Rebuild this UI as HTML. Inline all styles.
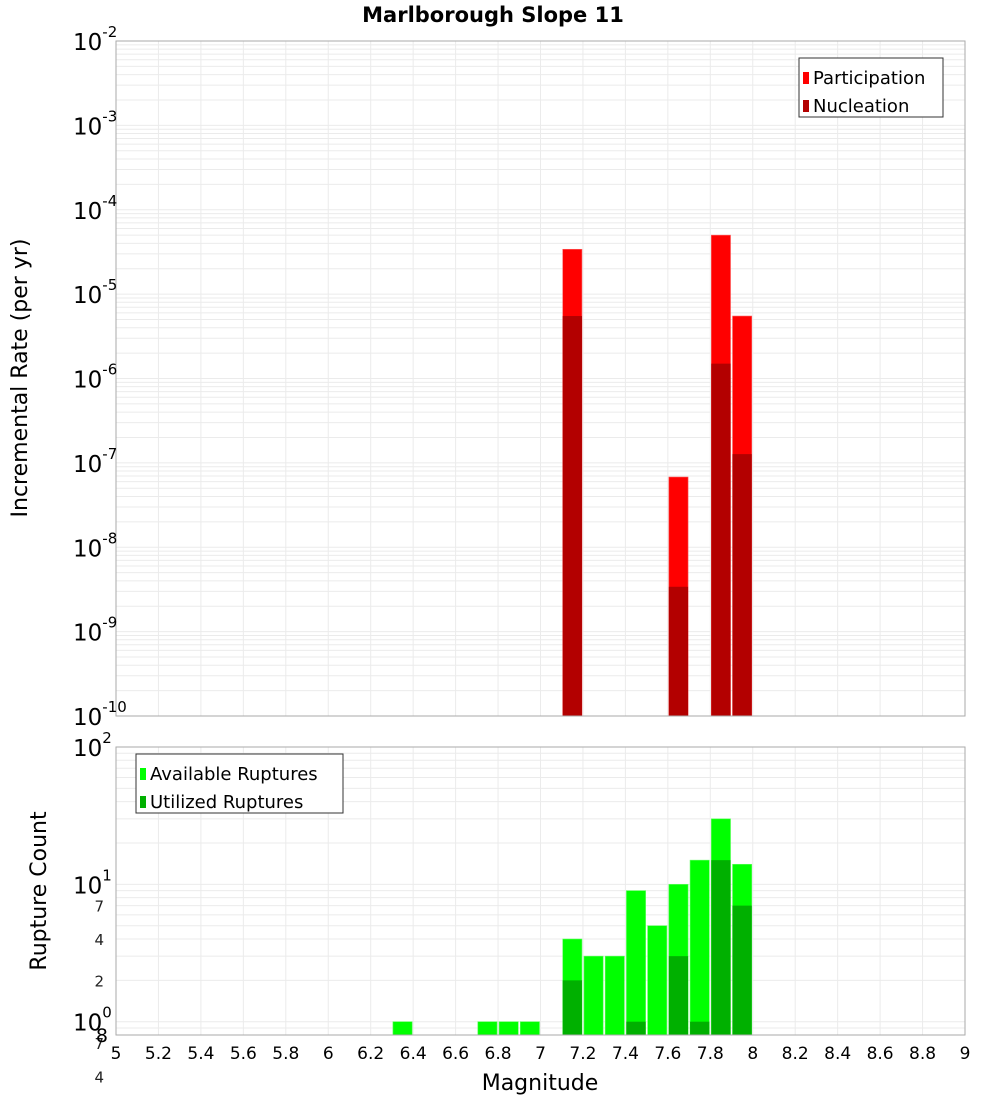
<!DOCTYPE html>
<html><head><meta charset="utf-8"><style>
body{margin:0;background:#fff;width:1000px;height:1100px;overflow:hidden}
svg text{font-family:"DejaVu Sans","Liberation Sans",sans-serif}
</style></head><body>
<svg id="c" width="1000" height="1100" xmlns="http://www.w3.org/2000/svg">
<text x="493" y="22" text-anchor="middle" font-size="21" font-weight="bold">Marlborough Slope 11</text>
<text transform="translate(27,378) rotate(-90)" text-anchor="middle" font-size="22">Incremental Rate (per yr)</text>
<text transform="translate(46,891) rotate(-90)" text-anchor="middle" font-size="22">Rupture Count</text>
<text x="540" y="1090" text-anchor="middle" font-size="22">Magnitude</text>
<g id="g"></g>
</svg>
<script>
const bins=[7.1,7.6,7.8,7.9];
const participation=[3.4e-5,6.8e-8,5.0e-5,5.5e-6];
const nucleation=[5.5e-6,3.4e-9,1.5e-6,1.27e-7];
const cntBins=[6.3,6.7,6.8,6.9,7.1,7.2,7.3,7.4,7.5,7.6,7.7,7.8,7.9];
const available=[1,1,1,1,4,3,3,9,5,10,15,30,14];
const utilized=[0,0,0,0,2,0,0,1,0,3,1,15,7];
const xTicks=[5,5.2,5.4,5.6,5.8,6,6.2,6.4,6.6,6.8,7,7.2,7.4,7.6,7.8,8,8.2,8.4,8.6,8.8,9];
const topExps=[-2,-3,-4,-5,-6,-7,-8,-9,-10];
const botExps=[2,1,0];
const botMinor=[7,4,2,0.7,0.4,0.2];

const NS='http://www.w3.org/2000/svg',G=document.getElementById('g');
function el(t,a,txt){const e=document.createElementNS(NS,t);for(const k in a)e.setAttribute(k,a[k]);if(txt!==undefined)e.textContent=txt;G.appendChild(e);return e;}
const L=116,R=965;
const x=v=>L+(v-5)/4*(R-L);
const T1=41,B1=716;
const y1=v=>T1+(-2-Math.log10(v))/8*(B1-T1);
const T2=747,B2=1035;
const y2=v=>T2+(2-Math.log10(v))/Math.log10(100/0.8)*(B2-T2);

// frames and grid
function grids(T,B,yf,lo,hi){
  for(let d=lo;d<hi;d++)for(let m=1;m<10;m++){const v=m*Math.pow(10,d);const yy=yf(v);if(yy<T-0.1||yy>B+0.1)continue;
    const ln=el('line',{x1:L,x2:R,y1:yy,y2:yy,stroke:'#ebebeb','stroke-width':1});
    }
  xTicks.forEach(t=>{const ln=el('line',{x1:x(t),x2:x(t),y1:T,y2:B,stroke:'#ebebeb','stroke-width':1});
    });
}
grids(T1,B1,y1,-10,-2);
grids(T2,B2,y2,-1,2);

// top bars
bins.forEach((b,i)=>{
  const x0=x(b)+1,w=x(b+0.1)-x(b)-2;
  let r=el('rect',{x:x0,y:y1(participation[i]),width:w,height:B1-y1(participation[i]),fill:'#ff0000',stroke:'#ff6060','stroke-width':0.6});
  
  r=el('rect',{x:x0,y:y1(nucleation[i]),width:w,height:B1-y1(nucleation[i]),fill:'#b30000'});
  
});
// bottom bars
cntBins.forEach((b,i)=>{
  const x0=x(b)+1,w=x(b+0.1)-x(b)-2;
  let r=el('rect',{x:x0,y:y2(available[i]),width:w,height:B2-y2(available[i]),fill:'#00ff00',stroke:'#60ff60','stroke-width':0.6});
  
  if(utilized[i]>0){r=el('rect',{x:x0,y:y2(utilized[i]),width:w,height:B2-y2(utilized[i]),fill:'#00b000'});
  }
});
// frames
let f=el('rect',{x:L,y:T1,width:R-L,height:B1-T1,fill:'none',stroke:'#aaa'});

f=el('rect',{x:L,y:T2,width:R-L,height:B2-T2,fill:'none',stroke:'#aaa'});


// y tick labels
function powLabel(yy,e,name){
  const t=el('text',{x:73,y:yy+9,'font-size':23});
  
  t.textContent='10';
  const s=document.createElementNS(NS,'tspan');s.setAttribute('dy','-13');s.setAttribute('font-size','15');s.textContent=String(e);t.appendChild(s);
}
topExps.forEach(e=>powLabel(y1(Math.pow(10,e)),e,'top-y-tick-label'));
botExps.forEach(e=>powLabel(y2(Math.pow(10,e)),e,'bottom-y-tick-label'));
botMinor.forEach(v=>{const t=el('text',{x:104,y:y2(v)+6,'font-size':15,'text-anchor':'end','fill':'#222'},String(Math.round(v*10)%10===0?v:Math.round(v*10)));
  });
const b8=el('text',{x:108,y:1042,'font-size':19,'text-anchor':'end'},'8');

// x tick labels
xTicks.forEach(t=>{const tx=el('text',{x:x(t),y:1059,'font-size':17,'text-anchor':'middle'},String(t));
  });

// legends
function legend(x0,y0,w,items,name){
  const bx=el('rect',{x:x0,y:y0,width:w,height:59,fill:'#fff',stroke:'#333'});
  
  items.forEach((it,i)=>{const yy=y0+15+i*28;
    const sw=el('rect',{x:x0+4,y:yy-1,width:6,height:12,fill:it[1]});
    
    const t=el('text',{x:x0+14,y:yy+11,'font-size':18},it[0]);
    });
}
legend(799,58,144,[['Participation','#ff0000'],['Nucleation','#b30000']],'top-legend');
legend(136,754,207,[['Available Ruptures','#00ff00'],['Utilized Ruptures','#00b000']],'bottom-legend');
</script>
</body></html>
